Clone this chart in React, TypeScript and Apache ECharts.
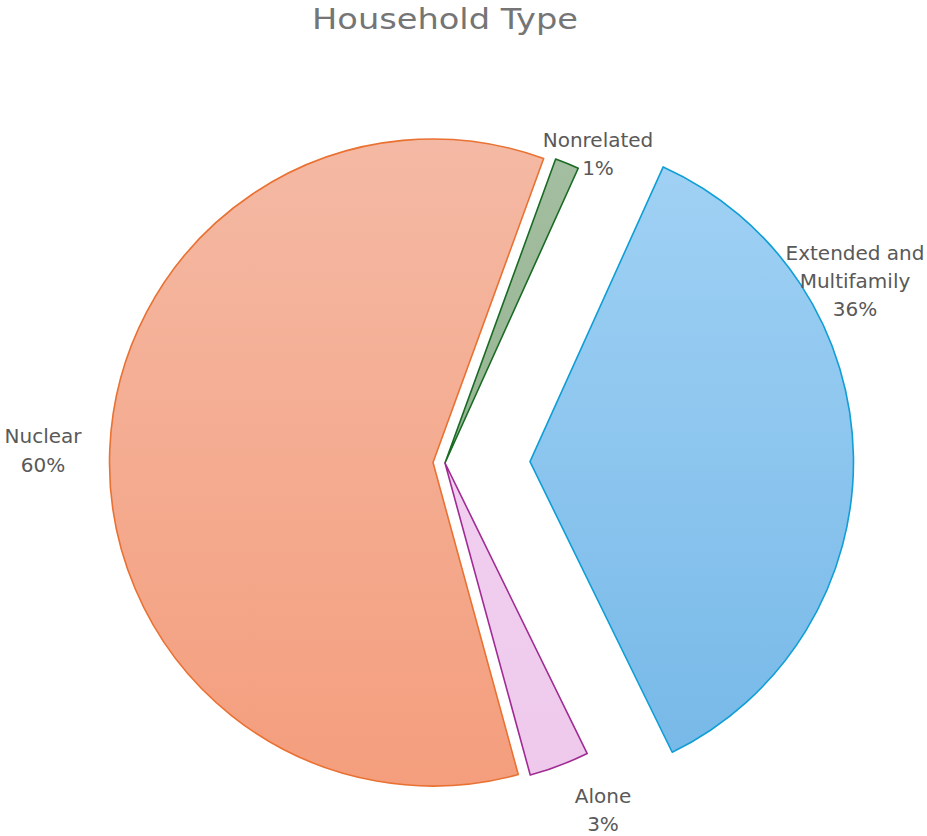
import React, { useEffect, useRef } from "react";
import * as echarts from "echarts";

// ---- data ----
const CATEGORIES: string[] = ["Nonrelated", "Extended and\nMultifamily", "Alone", "Nuclear"];
const VALUES: number[] = [1.2, 36.0, 3.0, 59.8];
const TITLE = "Household Type";

// ---- styles ----
const FIRST_SLICE_ANGLE = 20; // degrees clockwise from 12 o'clock
const EXPLODE = [0, 85, 0, 12];
const PIE_CENTER = [445, 463];
const PIE_RADIUS = 323.5;
const FILL_TOP = ["#a3bea0", "#a0d1f4", "#f1cff0", "#f4b9a4"];
const FILL_BOTTOM = ["#97b593", "#77b9e8", "#eec9ec", "#f49e7d"];
const BORDERS = ["#196b24", "#0f9ed5", "#a02b93", "#e97132"];
const LABEL_POS: number[][] = [
  [598, 154],
  [855, 281],
  [603, 810],
  [43, 450],
];
const LABEL_LINE_HEIGHT = [28, 28, 28, 29];
const FONT = "'DejaVu Sans', 'Open Sans', sans-serif";
const LABEL_SIZE = 20;
const TITLE_SIZE = 29;
const TITLE_STRETCH = 1.16;

export default function App() {
  const ref = useRef<HTMLDivElement>(null);

  useEffect(() => {
    document.body.style.margin = "0";
    if (!ref.current) return;
    const chart = echarts.init(ref.current, null, { renderer: "svg" });

    const total = VALUES.reduce((a, b) => a + b, 0);
    let cum = 0;
    const mids = VALUES.map((v) => {
      const start = FIRST_SLICE_ANGLE + (360 * cum) / total;
      cum += v;
      return start + (180 * v) / total;
    });

    const series = CATEGORIES.map((_, i) => {
      const rad = (mids[i] * Math.PI) / 180;
      const cx = PIE_CENTER[0] + EXPLODE[i] * Math.sin(rad);
      const cy = PIE_CENTER[1] - EXPLODE[i] * Math.cos(rad);
      return {
        type: "pie",
        radius: PIE_RADIUS,
        center: [cx, cy],
        startAngle: 90 - FIRST_SLICE_ANGLE,
        clockwise: true,
        avoidLabelOverlap: false,
        silent: true,
        percentPrecision: 2,
        label: {
          position: "outside",
          color: "#595959",
          fontSize: LABEL_SIZE,
          lineHeight: LABEL_LINE_HEIGHT[i],
          fontFamily: FONT,
          align: "center",
          formatter: (p: any) => `${p.name}\n${Math.round(p.percent)}%`,
        },
        labelLine: { show: false },
        labelLayout: (p: any) =>
          p.dataIndex === i
            ? { x: LABEL_POS[i][0], y: LABEL_POS[i][1], align: "center", verticalAlign: "middle" }
            : {},
        emphasis: { disabled: true },
        data: CATEGORIES.map((name, j) => ({
          name,
          value: VALUES[j],
          itemStyle:
            j === i
              ? {
                  color: new echarts.graphic.LinearGradient(0, 0, 0, 1, [
                    { offset: 0, color: FILL_TOP[j] },
                    { offset: 1, color: FILL_BOTTOM[j] },
                  ]),
                  borderColor: BORDERS[j],
                  borderWidth: 1.6,
                }
              : { opacity: 0, borderWidth: 0 },
          label: { show: j === i },
        })),
      };
    });

    chart.setOption({
      animation: false,
      backgroundColor: "#ffffff",
      graphic: [
        {
          type: "text",
          x: PIE_CENTER[0],
          y: 4,
          scaleX: TITLE_STRETCH,
          silent: true,
          style: {
            text: TITLE,
            x: 0,
            y: 0,
            align: "center",
            verticalAlign: "top",
            fill: "#757575",
            fontSize: TITLE_SIZE,
            fontFamily: FONT,
            fontWeight: "normal",
          },
        },
      ],
      series,
    });

    return () => chart.dispose();
  }, []);

  return <div ref={ref} style={{ width: 927, height: 836 }} />;
}
